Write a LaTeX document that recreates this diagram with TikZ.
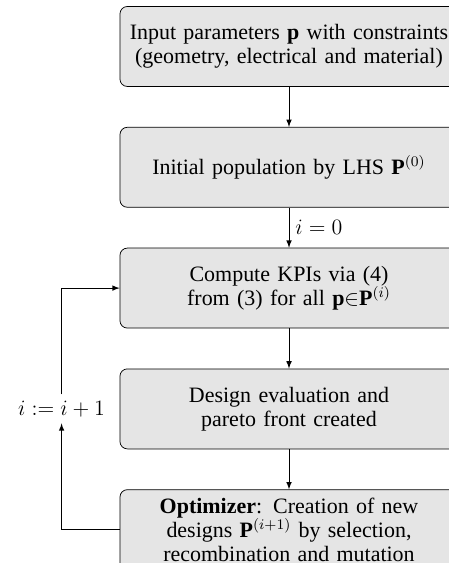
\documentclass[tikz,border=0pt]{standalone}
\usepackage{fontspec}
\setmainfont{Liberation Serif}
\usepackage{amsmath}
\usepackage{tikz}
\usetikzlibrary{arrows,arrows.meta,calc,positioning}
\tikzset{
    auto,node distance =21.9pt and 1 cm,thin,
    font=\fontsize{12}{13}\selectfont,
    stepbox/.style ={rectangle, draw, rounded corners=4pt, fill=gray!20,
        align=center, minimum width=184.7pt, minimum height=43.7pt,
        inner xsep=2pt, text width=180pt},
    flow/.style={-latex}
}

\begin{document}
\begin{tikzpicture}
\useasboundingbox (-157.9pt,25.4pt) rectangle (86.9pt,-282.2pt);

% Nodes
\node[stepbox] (inp) {Input parameters $\mathbf{p}$ with constraints\\(geometry, electrical and material)};
\node[stepbox, below=of inp] (lhs) {Initial population by LHS $\mathbf{P}^{(0)}$};
\node[stepbox, below=of lhs] (kpi) {Compute KPIs via (4)\\from (3) for all $\mathbf{p}{\in}\mathbf{P}^{(i)}$};
\node[stepbox, below=of kpi] (des) {Design evaluation and\\pareto front created};
\node[stepbox, below=of des] (opt) {\textbf{Optimizer}: Creation of new\\designs $\mathbf{P}^{(i+1)}$ by selection,\\recombination and mutation};
\node (upd) at ($(des.west)+(-31.7pt,0)$) {$i:=i+1$};

% Paths
\draw[flow] (inp) -- (lhs);
\draw[flow] (lhs) -- node[right] {$i=0$} (kpi);
\draw[flow] (kpi) -- (des);
\draw[flow] (des) -- (opt);
\draw[flow] (opt.west) -| (upd.south);
\draw[flow] (upd.north) |- (kpi.west);

\end{tikzpicture}
\end{document}
